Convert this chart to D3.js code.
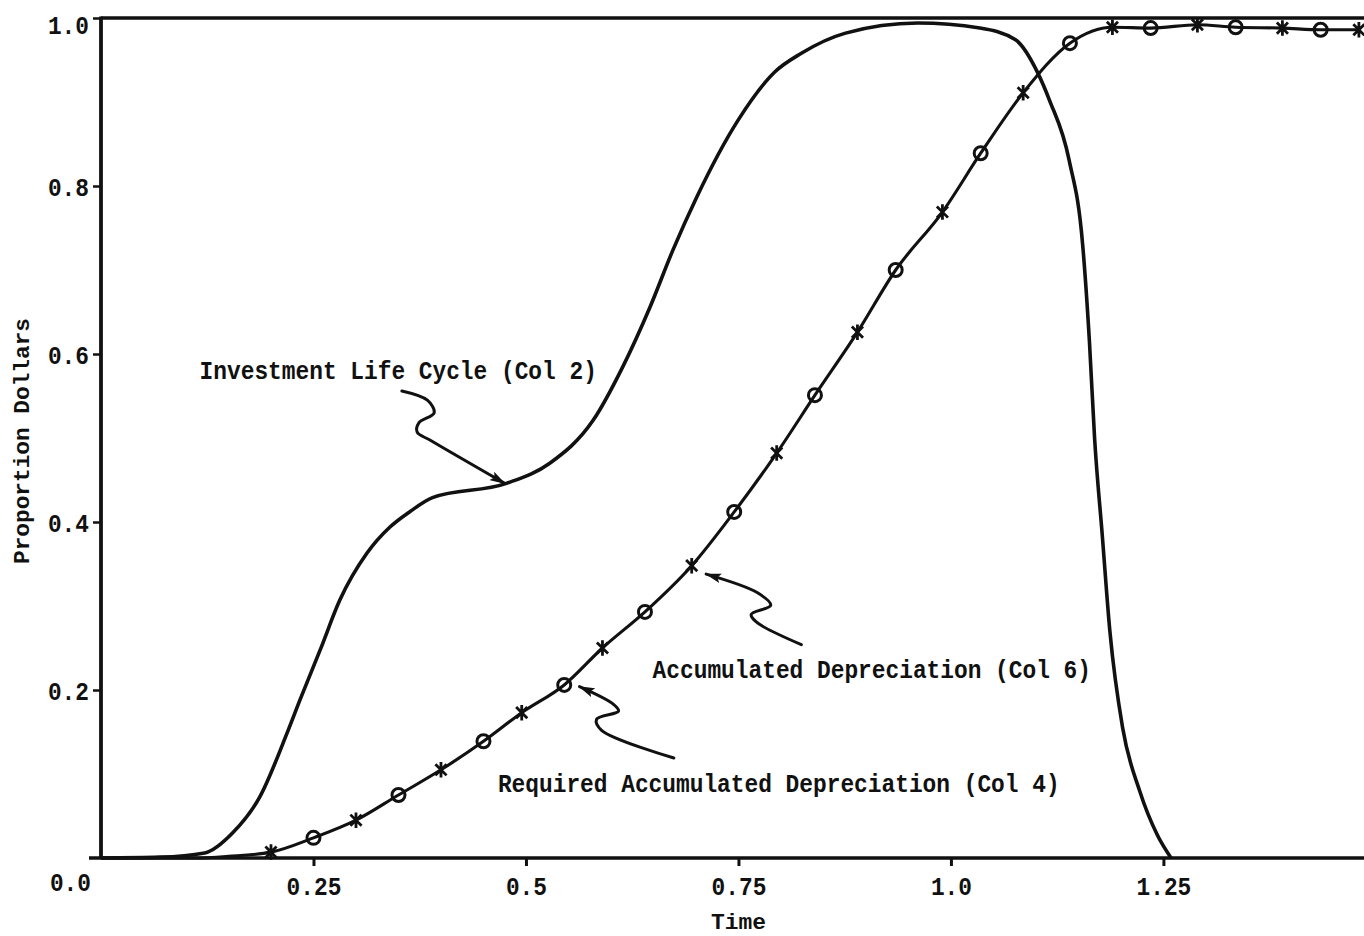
<!DOCTYPE html>
<html>
<head>
<meta charset="utf-8">
<script src="https://cdn.jsdelivr.net/npm/d3@7"></script>
<style>
  html, body { margin: 0; padding: 0; background: #fff; }
  svg { display: block; }
  text { font-family: "Liberation Mono", "DejaVu Sans Mono", monospace; font-weight: bold; fill: #111; }
</style>
</head>
<body>
<svg id="chart" width="1364" height="936"></svg>
<script>
// ---------- data ----------
const timeTicks = [0.25, 0.5, 0.75, 1.0, 1.25];
const timeTickLabels = ["0.25", "0.5", "0.75", "1.0", "1.25"];
const propTicks = [0.2, 0.4, 0.6, 0.8, 1.0];
const propTickLabels = ["0.2", "0.4", "0.6", "0.8", "1.0"];
const originLabel = "0.0";

// Investment Life Cycle (Col 2)
const lifeTime  = [0, 0.069, 0.122, 0.155, 0.187, 0.219, 0.234, 0.258, 0.281, 0.313, 0.340, 0.363, 0.390, 0.477, 0.528, 0.579, 0.614, 0.646, 0.673, 0.701, 0.750, 0.793, 0.824, 0.876, 0.961, 1.034, 1.076, 1.102, 1.116, 1.139, 1.155, 1.163, 1.169, 1.178, 1.187, 1.202, 1.222, 1.243, 1.259];
const lifeValue = [0, 0.001, 0.006, 0.030, 0.073, 0.149, 0.188, 0.248, 0.307, 0.363, 0.394, 0.412, 0.429, 0.446, 0.470, 0.521, 0.585, 0.656, 0.724, 0.787, 0.879, 0.936, 0.958, 0.982, 0.994, 0.988, 0.974, 0.935, 0.902, 0.831, 0.730, 0.614, 0.500, 0.385, 0.270, 0.155, 0.080, 0.027, 0.0];

// Required Accumulated Depreciation (Col 4) - circles
const col4Time  = [0.25, 0.35, 0.45, 0.545, 0.64, 0.745, 0.84, 0.935, 1.035, 1.14, 1.235, 1.335, 1.435];
const col4Value = [0.024, 0.075, 0.139, 0.206, 0.293, 0.412, 0.551, 0.700, 0.839, 0.970, 0.988, 0.989, 0.986];

// Accumulated Depreciation (Col 6) - asterisks
const col6Time  = [0.20, 0.30, 0.40, 0.495, 0.59, 0.695, 0.795, 0.89, 0.99, 1.085, 1.19, 1.29, 1.39, 1.48];
const col6Value = [0.007, 0.045, 0.105, 0.173, 0.250, 0.348, 0.482, 0.626, 0.769, 0.911, 0.989, 0.992, 0.988, 0.986];

// start of the depreciation line before the first marker
const depLeadTime  = [0, 0.11, 0.15];
const depLeadValue = [0, 0.0, 0.002];

// annotations (anchored in data units)
const labelTexts = ["Investment Life Cycle (Col 2)", "Accumulated Depreciation (Col 6)", "Required Accumulated Depreciation (Col 4)"];
const labelTime  = [0.116, 0.649, 0.467];
const labelValue = [0.570, 0.214, 0.079];

const arrowLife = [[0.354, 0.556], [0.384, 0.545], [0.392, 0.530], [0.374, 0.518], [0.372, 0.507], [0.388, 0.497], [0.475, 0.446]];
const arrowCol6 = [[0.824, 0.254], [0.771, 0.281], [0.765, 0.290], [0.788, 0.301], [0.772, 0.316], [0.712, 0.338]];
const arrowCol4 = [[0.674, 0.119], [0.589, 0.152], [0.583, 0.165], [0.609, 0.175], [0.603, 0.183], [0.563, 0.204]];

const xTitle = "Time";
const yTitle = "Proportion Dollars";

// ---------- drawing ----------
const svg = d3.select("#chart");
const W = 1364, H = 936;
svg.append("rect").attr("width", W).attr("height", H).attr("fill", "#fff");

const x = d3.scaleLinear().domain([0, 1.486]).range([101, 1364]);
const y = d3.scaleLinear().domain([0, 1]).range([858, 18]);

const FS = 25.5;       // typewriter face size
const pitch = 13.7;    // character pitch in the picture

const defs = svg.append("defs");
defs.append("marker")
  .attr("id", "ah").attr("viewBox", "0 0 15 9").attr("refX", 14).attr("refY", 4.5)
  .attr("markerWidth", 16).attr("markerHeight", 10).attr("markerUnits", "userSpaceOnUse")
  .attr("orient", "auto")
  .append("path").attr("d", "M0,0 L15,4.5 L0,9 L3,4.5 Z").attr("fill", "#111");

function typeText(sel, s) {
  sel.attr("font-size", FS).attr("textLength", s.length * pitch)
     .attr("lengthAdjust", "spacingAndGlyphs").text(s);
  return sel;
}

// axes
const xAxis = d3.axisBottom(x).tickValues(timeTicks)
  .tickFormat((d, i) => timeTickLabels[i]).tickSize(8).tickPadding(11);
const gx = svg.append("g").attr("transform", `translate(0,${y(0)})`).call(xAxis);
gx.select(".domain").remove();
gx.selectAll(".tick line").attr("stroke", "#111").attr("stroke-width", 3);
gx.selectAll(".tick text").each(function(d, i) {
  d3.select(this).attr("fill", "#111").attr("font-family", "Liberation Mono").attr("font-weight", "bold")
    .attr("font-size", FS).attr("textLength", timeTickLabels[i].length * pitch).attr("lengthAdjust", "spacingAndGlyphs");
});

const yAxis = d3.axisLeft(y).tickValues(propTicks)
  .tickFormat((d, i) => propTickLabels[i]).tickSize(8).tickPadding(4);
const gy = svg.append("g").attr("transform", `translate(${x(0)},0)`).call(yAxis);
gy.select(".domain").remove();
gy.selectAll(".tick line").attr("stroke", "#111").attr("stroke-width", 2.5);
gy.selectAll(".tick text").each(function(d, i) {
  d3.select(this).attr("fill", "#111").attr("font-family", "Liberation Mono").attr("font-weight", "bold")
    .attr("font-size", FS).attr("textLength", propTickLabels[i].length * pitch).attr("lengthAdjust", "spacingAndGlyphs")
    .attr("dy", d === 1 ? "0.6em" : "0.36em");
});

// frame lines (axis lines and top border)
svg.append("line").attr("x1", x(0) - 12).attr("x2", W).attr("y1", y(0)).attr("y2", y(0))
  .attr("stroke", "#111").attr("stroke-width", 3.5);
svg.append("line").attr("x1", x(0)).attr("x2", x(0)).attr("y1", y(1) - 1.5).attr("y2", y(0))
  .attr("stroke", "#111").attr("stroke-width", 3.8);
svg.append("line").attr("x1", x(0)).attr("x2", W).attr("y1", y(1)).attr("y2", y(1))
  .attr("stroke", "#111").attr("stroke-width", 3.5);

// origin label
typeText(svg.append("text").attr("x", x(0) - 10).attr("y", y(0) + 33).attr("text-anchor", "end"), originLabel);

// axis titles
svg.append("text").attr("x", x(0.75)).attr("y", 929).attr("text-anchor", "middle")
  .attr("font-size", 22).attr("textLength", 55).attr("lengthAdjust", "spacingAndGlyphs").text(xTitle);
svg.append("text").attr("transform", "translate(29,441) rotate(-90)").attr("text-anchor", "middle")
  .attr("font-size", 22).attr("textLength", 246).attr("lengthAdjust", "spacingAndGlyphs").text(yTitle);

// life cycle curve
const lifeData = lifeTime.map((t, i) => [t, lifeValue[i]]);
const line = d3.line().x(d => x(d[0])).y(d => y(d[1])).curve(d3.curveMonotoneX);
svg.append("path").datum(lifeData).attr("d", line)
  .attr("fill", "none").attr("stroke", "#111").attr("stroke-width", 3.6).attr("stroke-linejoin", "round");

// depreciation line through both series
const depData = depLeadTime.map((t, i) => [t, depLeadValue[i]])
  .concat(col4Time.map((t, i) => [t, col4Value[i]]))
  .concat(col6Time.map((t, i) => [t, col6Value[i]]))
  .sort((a, b) => a[0] - b[0]);
svg.append("path").datum(depData).attr("d", line)
  .attr("fill", "none").attr("stroke", "#111").attr("stroke-width", 3.1).attr("stroke-linejoin", "round");

// Col 4 markers (circles)
svg.append("g").selectAll("circle").data(col4Time.map((t, i) => [t, col4Value[i]])).join("circle")
  .attr("cx", d => x(d[0])).attr("cy", d => y(d[1])).attr("r", 6.5)
  .attr("fill", "none").attr("stroke", "#111").attr("stroke-width", 3);

// Col 6 markers (asterisks: vertical stroke with an x)
const typeStar = {
  draw(ctx, size) {
    const r = Math.sqrt(size) / 2, d = r * 0.72;
    ctx.moveTo(0, -r); ctx.lineTo(0, r);
    ctx.moveTo(-d, -d); ctx.lineTo(d, d);
    ctx.moveTo(-d, d); ctx.lineTo(d, -d);
  }
};
const star = d3.symbol().type(typeStar).size(240);
svg.append("g").selectAll("path").data(col6Time.map((t, i) => [t, col6Value[i]])).join("path")
  .attr("transform", d => `translate(${x(d[0])},${y(d[1])})`)
  .attr("d", star).attr("fill", "none").attr("stroke", "#111").attr("stroke-width", 2.8);

// annotation labels
labelTexts.forEach((s, i) => {
  typeText(svg.append("text").attr("x", x(labelTime[i])).attr("y", y(labelValue[i])), s);
});

// annotation arrows
const arrowLine = d3.line().x(d => x(d[0])).y(d => y(d[1])).curve(d3.curveCatmullRom.alpha(0.5));
[arrowLife, arrowCol6, arrowCol4].forEach(a => {
  svg.append("path").datum(a).attr("d", arrowLine)
    .attr("fill", "none").attr("stroke", "#111").attr("stroke-width", 3)
    .attr("stroke-linecap", "round").attr("marker-end", "url(#ah)");
});
</script>
</body>
</html>
